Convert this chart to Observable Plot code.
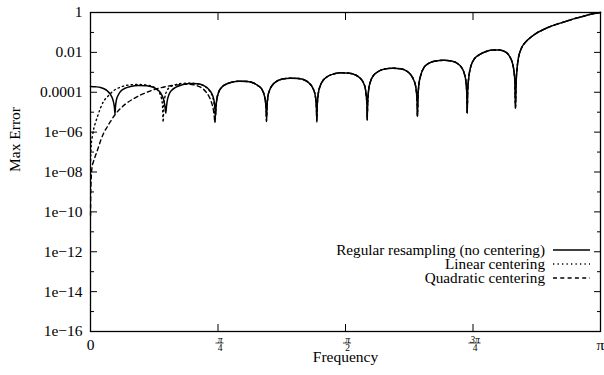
<!DOCTYPE html>
<html><head><meta charset="utf-8">
<script src="https://cdn.jsdelivr.net/npm/d3@7"></script>
<script src="https://cdn.jsdelivr.net/npm/@observablehq/plot@0.6"></script>
<style>
body{margin:0;background:#fff;}
#wrap{position:relative;width:604px;height:375px;font-family:"Liberation Serif","Times New Roman",serif;}
#wrap svg{font-family:"Liberation Serif","Times New Roman",serif;}
#legend{position:absolute;left:0;top:0;pointer-events:none;}
</style></head><body><div id="wrap"></div>
<script>
// Series names
const seriesNames = ["Regular resampling (no centering)", "Linear centering", "Quadratic centering"];

// [frequency / π, log10(max error)]
const regularLow = [
  [0,-3.711],[0.0098,-3.726],[0.0196,-3.761],[0.0275,-3.837],[0.0333,-3.937],[0.0392,-4.112],[0.0431,-4.313],[0.0457,-4.564],[0.0471,-4.814],[0.0480,-5.080],
  [0.0490,-4.714],[0.0510,-4.363],[0.0539,-4.162],[0.0588,-3.962],[0.0667,-3.811],[0.0784,-3.711],[0.0941,-3.661],[0.1098,-3.671],[0.1216,-3.736],[0.1294,-3.837],[0.1353,-3.962],[0.1402,-4.162],[0.1437,-4.413],[0.1461,-4.714],[0.1476,-5.050],
  [0.1490,-4.714],[0.1510,-4.363],[0.1539,-4.112],[0.1588,-3.912],[0.1667,-3.761],[0.1784,-3.636],[0.1941,-3.561],[0.2098,-3.576],[0.2216,-3.661],[0.2294,-3.786],[0.2353,-3.962],[0.2402,-4.213],[0.2431,-4.564],[0.2443,-4.865],[0.2451,-5.216]
];
const linearLow = [
  [0.0002,-7.422],[0.0010,-6.821],[0.0020,-6.469],[0.0033,-6.254],[0.0065,-5.817],[0.0098,-5.517],[0.0137,-5.216],[0.0196,-4.789],[0.0255,-4.463],[0.0327,-4.238],[0.0392,-4.062],[0.0457,-3.912],[0.0549,-3.786],[0.0653,-3.686],[0.0784,-3.626],[0.0922,-3.611],[0.1059,-3.626],[0.1176,-3.671],[0.1255,-3.761],[0.1314,-3.887],[0.1363,-4.087],[0.1392,-4.313],[0.1412,-4.664],[0.1425,-5.502],
  [0.1437,-4.664],[0.1457,-4.263],[0.1490,-3.962],[0.1549,-3.761],[0.1647,-3.636],[0.1784,-3.561],[0.1941,-3.546],[0.2098,-3.576],[0.2216,-3.671],[0.2294,-3.811],[0.2353,-4.012],[0.2398,-4.263],[0.2425,-4.614],[0.2441,-5.502]
];
const quadraticLow = [
  [0.0001,-10.181],[0.0004,-9.177],[0.0010,-8.576],[0.0020,-8.024],[0.0033,-7.723],[0.0059,-7.472],[0.0098,-7.172],[0.0147,-6.821],[0.0196,-6.444],[0.0255,-6.068],[0.0327,-5.742],[0.0392,-5.466],[0.0490,-5.090],[0.0588,-4.814],[0.0686,-4.589],[0.0843,-4.328],[0.0980,-4.137],[0.1118,-3.987],[0.1255,-3.862],[0.1373,-3.776],[0.1510,-3.701],[0.1647,-3.651],[0.1784,-3.611],[0.1902,-3.601],[0.2020,-3.626],[0.2118,-3.701],[0.2196,-3.811],[0.2265,-3.987],[0.2324,-4.213],[0.2373,-4.514],[0.2408,-4.865],[0.2427,-5.216],[0.2437,-5.502]
];
// Above ~π/4 the three curves coincide
const sharedHigh = [
  [0.2461,-4.714],[0.2480,-4.313],[0.2510,-4.012],[0.2569,-3.761],[0.2647,-3.611],[0.2765,-3.500],[0.2922,-3.445],[0.3078,-3.460],[0.3196,-3.536],[0.3294,-3.686],[0.3363,-3.862],[0.3408,-4.162],[0.3435,-4.564],[0.3445,-4.915],[0.3451,-5.316],
  [0.3461,-4.714],[0.3480,-4.213],[0.3510,-3.912],[0.3569,-3.636],[0.3647,-3.460],[0.3765,-3.335],[0.3922,-3.295],[0.4078,-3.310],[0.4196,-3.385],[0.4284,-3.536],[0.4353,-3.761],[0.4402,-4.112],[0.4424,-4.514],[0.4431,-4.865],[0.4437,-5.366],
  [0.4447,-4.614],[0.4467,-4.062],[0.4500,-3.711],[0.4559,-3.410],[0.4647,-3.210],[0.4765,-3.084],[0.4922,-3.024],[0.5078,-3.044],[0.5196,-3.134],[0.5284,-3.285],[0.5349,-3.511],[0.5392,-3.862],[0.5412,-4.313],[0.5422,-4.714],[0.5425,-5.266],
  [0.5435,-4.514],[0.5455,-3.862],[0.5490,-3.460],[0.5549,-3.159],[0.5627,-2.984],[0.5765,-2.833],[0.5922,-2.793],[0.6078,-2.823],[0.6196,-2.934],[0.6275,-3.109],[0.6333,-3.360],[0.6376,-3.711],[0.6398,-4.213],[0.6406,-4.614],[0.6410,-5.216],
  [0.6420,-4.313],[0.6439,-3.611],[0.6480,-3.109],[0.6539,-2.758],[0.6627,-2.558],[0.6765,-2.432],[0.6922,-2.397],[0.7078,-2.432],[0.7196,-2.558],[0.7275,-2.758],[0.7329,-3.059],[0.7363,-3.511],[0.7378,-4.062],[0.7386,-5.065],
  [0.7396,-3.912],[0.7418,-3.245],[0.7451,-2.758],[0.7490,-2.482],[0.7549,-2.257],[0.7627,-2.116],[0.7745,-1.966],[0.7882,-1.886],[0.8000,-1.876],[0.8098,-1.931],[0.8176,-2.056],[0.8235,-2.282],[0.8275,-2.558],[0.8304,-2.959],[0.8322,-3.511],[0.8333,-4.799],
  [0.8343,-3.711],[0.8367,-2.743],[0.8392,-2.257],[0.8431,-1.906],[0.8471,-1.680],[0.8529,-1.489],[0.8627,-1.254],[0.8725,-1.068],[0.8843,-0.903],[0.8980,-0.737],[0.9137,-0.592],[0.9314,-0.451],[0.9471,-0.321],[0.9647,-0.201],[0.9804,-0.090],[1,0]
];
// deeper cusp tips of the centered variants
const centeredCuspTips = [[0.3451,-5.466],[0.4437,-5.491],[0.5425,-5.416]];

// Axis ticks
const yMajorExp = [0,-2,-4,-6,-8,-10,-12,-14,-16];
const yTickLabels = ["1","0.01","0.0001","1e\u221206","1e\u221208","1e\u221210","1e\u221212","1e\u221214","1e\u221216"];
const yMinorExp = [-1,-3,-5,-7,-9,-11,-13,-15];
const xEndPos = [0, 1];
const xEndLabels = ["0", "\u03c0"];
const xFracPos = [0.25, 0.5, 0.75];
const xFracNum = ["\u03c0", "\u03c0", "3\u03c0"];
const xFracDen = ["4", "2", "4"];

const centeredHigh = sharedHigh.map(([f, e]) => {
  const t = centeredCuspTips.find(c => c[0] === f);
  return [f, t ? t[1] : e];
});
const toRows = (arr, s) => arr.map(([f, e]) => ({f, err: Math.pow(10, e), s}));
const regular = toRows(regularLow.concat(sharedHigh), seriesNames[0]);
const linear = toRows(linearLow.concat(centeredHigh), seriesNames[1]);
const quadratic = toRows(quadraticLow.concat(centeredHigh), seriesNames[2]);

const yMajor = yMajorExp.map(e => Math.pow(10, e));
const yMinor = yMinorExp.map(e => Math.pow(10, e));
const fmtY = d => yTickLabels[yMajorExp.indexOf(Math.round(Math.log10(d)))];
const blank = () => "";
const serif = '"Liberation Serif","Times New Roman",serif';

const chart = Plot.plot({
  width: 604, height: 375,
  marginLeft: 90, marginRight: 4, marginTop: 12, marginBottom: 44,
  style: `font-family: ${serif}; font-size: 15.5px; color: #000; background: #fff; overflow: visible;`,
  x: {domain: [0, 1]},
  y: {type: "log", domain: [1e-16, 1]},
  marks: [
    Plot.axisY({ticks: yMajor, tickSize: 0, tickPadding: 8, tickFormat: fmtY, label: null, fontSize: 15.5, fontFamily: serif}),
    Plot.axisY({ticks: yMajor, tickSize: -7, tickFormat: blank, label: null}),
    Plot.axisY({ticks: yMinor, tickSize: -4, tickFormat: blank, label: null}),
    Plot.axisY({anchor: "right", ticks: yMajor, tickSize: -7, tickFormat: blank, label: null}),
    Plot.axisY({anchor: "right", ticks: yMinor, tickSize: -4, tickFormat: blank, label: null}),
    Plot.axisX({ticks: xFracPos, tickSize: -7, tickFormat: blank, label: null}),
    Plot.axisX({anchor: "top", ticks: xFracPos, tickSize: -7, tickFormat: blank, label: null}),
    Plot.axisX({ticks: xEndPos, tickSize: 0, tickPadding: 7, tickFormat: d => xEndLabels[xEndPos.indexOf(d)], label: null, fontSize: 15.5, fontFamily: serif}),
    Plot.text(xFracPos, {x: d => d, frameAnchor: "bottom", text: (d, i) => xFracNum[i], lineAnchor: "bottom", dy: 11, dx: 2, fontSize: 9.5, fontStyle: "italic", fontFamily: serif}),
    Plot.ruleY(xFracPos, {y: () => 1e-16, x1: (d, i) => d - (xFracNum[i].length > 1 ? 0.012 : 0.008), x2: (d, i) => d + (xFracNum[i].length > 1 ? 0.012 : 0.008), dy: 11.5, dx: 2, stroke: "#000", strokeWidth: 0.7}),
    Plot.text(xFracPos, {x: d => d, frameAnchor: "bottom", text: (d, i) => xFracDen[i], lineAnchor: "top", dy: 12.5, dx: 2, fontSize: 9.5, fontFamily: serif}),
    Plot.text(["Frequency"], {frameAnchor: "bottom", dy: 30, fontSize: 15.5, fontFamily: serif}),
    Plot.text(["Max Error"], {frameAnchor: "left", rotate: -90, dx: -75, fontSize: 15.5, fontFamily: serif}),
    Plot.line(quadratic, {x: "f", y: "err", stroke: "#000", strokeWidth: 1.4, strokeDasharray: "4,3.3", curve: "monotone-x"}),
    Plot.line(linear, {x: "f", y: "err", stroke: "#000", strokeWidth: 1.4, strokeDasharray: "1.3,3.2", curve: "monotone-x"}),
    Plot.line(regular, {x: "f", y: "err", stroke: "#000", strokeWidth: 1.5, curve: "monotone-x"}),
    Plot.frame({stroke: "#000", strokeWidth: 1.3})
  ]
});
const wrap = document.getElementById("wrap");
wrap.appendChild(chart);

// Legend (inside the plot, lower right)
const legendDash = [null, "1.3,3.2", "4,3.3"];
const legendBase = [255, 269, 283];
const ns = "http://www.w3.org/2000/svg";
const lg = document.createElementNS(ns, "svg");
lg.setAttribute("id", "legend");
lg.setAttribute("width", 604); lg.setAttribute("height", 375);
seriesNames.forEach((name, i) => {
  const t = document.createElementNS(ns, "text");
  t.setAttribute("x", 545); t.setAttribute("y", legendBase[i]);
  t.setAttribute("text-anchor", "end");
  t.setAttribute("font-family", serif);
  t.setAttribute("font-size", "15.2");
  t.textContent = name;
  lg.appendChild(t);
  const l = document.createElementNS(ns, "line");
  l.setAttribute("x1", 553); l.setAttribute("x2", 590);
  l.setAttribute("y1", legendBase[i] - 5); l.setAttribute("y2", legendBase[i] - 5);
  l.setAttribute("stroke", "#000"); l.setAttribute("stroke-width", 1.4);
  if (legendDash[i]) l.setAttribute("stroke-dasharray", legendDash[i]);
  lg.appendChild(l);
});
wrap.appendChild(lg);
</script></body></html>
